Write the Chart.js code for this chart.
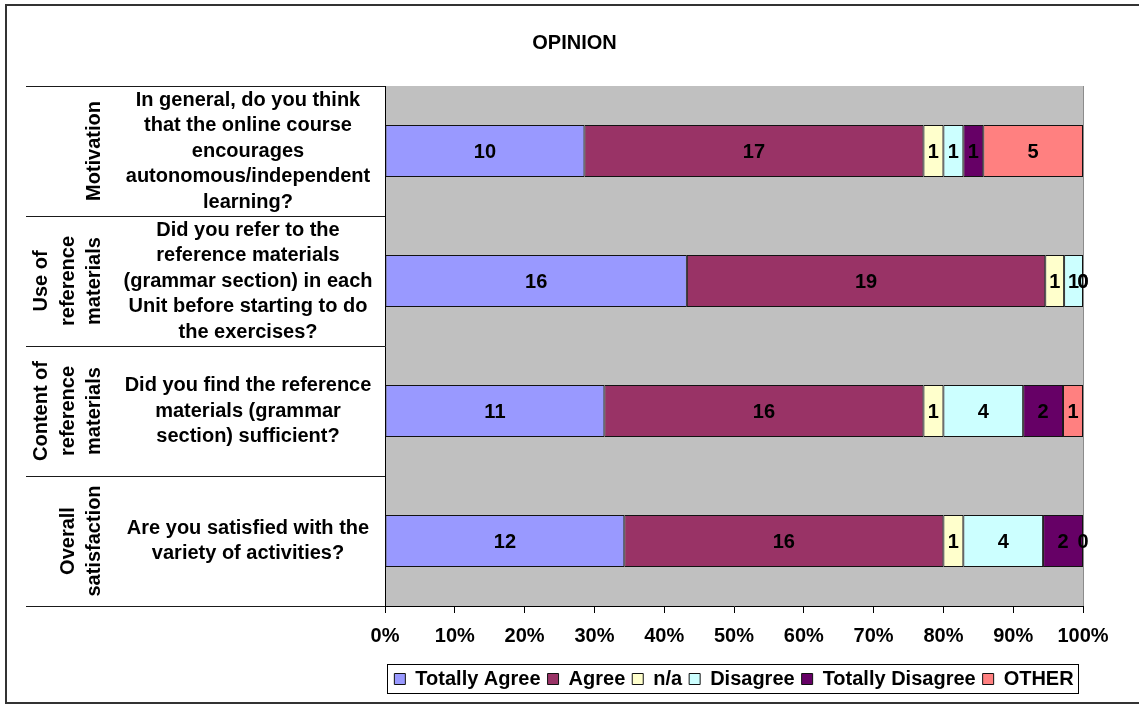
<!DOCTYPE html>
<html>
<head>
<meta charset="utf-8">
<title>OPINION</title>
<script src="https://cdn.jsdelivr.net/npm/chart.js@4/dist/chart.umd.min.js"></script>
<style>
  html, body { margin: 0; padding: 0; background: #fff; }
  #wrap { width: 1139px; height: 706px; position: relative; }
</style>
</head>
<body>
<div id="wrap"><canvas id="c" width="1139" height="706"></canvas></div>
<script>
// Survey topics (outer label level), written one line per entry
const groups = [
  ['Motivation'],
  ['Use of', 'reference', 'materials'],
  ['Content of', 'reference', 'materials'],
  ['Overall', 'satisfaction']
];

// Questions (inner label level)
const questions = [
  ['In general, do you think', 'that the online course', 'encourages', 'autonomous/independent', 'learning?'],
  ['Did you refer to the', 'reference materials', '(grammar section) in each', 'Unit before starting to do', 'the exercises?'],
  ['Did you find the reference', 'materials (grammar', 'section) sufficient?'],
  ['Are you satisfied with the', 'variety of activities?']
];

// Answer categories
const seriesNames = ['Totally Agree', 'Agree', 'n/a', 'Disagree', 'Totally Disagree', 'OTHER'];

// Number of answers per question
const totallyAgree    = [10, 16, 11, 12];
const agree           = [17, 19, 16, 16];
const notApplicable   = [1, 1, 1, 1];
const disagree        = [1, 1, 4, 4];
const totallyDisagree = [1, 0, 2, 2];
const other           = [5, 0, 1, 0];

// Percentage axis ticks
const xTicks = [0, 10, 20, 30, 40, 50, 60, 70, 80, 90, 100];

const seriesCounts = [totallyAgree, agree, notApplicable, disagree, totallyDisagree, other];
const seriesColors = ['#9999FF', '#993366', '#FFFFCC', '#CCFFFF', '#660066', '#FF8080'];

const totals = questions.map((_, i) => seriesCounts.reduce((s, arr) => s + arr[i], 0));

const FONT = 'Liberation Sans, Arial, Helvetica, sans-serif';
const FS = 20;
Chart.defaults.font.family = FONT;
Chart.defaults.font.weight = 'bold';
Chart.defaults.font.size = FS;
Chart.defaults.color = '#000';

// Grey plot background and its right edge
const plotBackground = {
  id: 'plotBackground',
  beforeDraw(chart) {
    const { ctx, chartArea: a } = chart;
    ctx.save();
    ctx.fillStyle = '#C0C0C0';
    ctx.fillRect(a.left, a.top, a.right - a.left, a.bottom - a.top);
    ctx.restore();
  },
  afterDatasetsDraw(chart) {
    const { ctx, chartArea: a } = chart;
    ctx.save();
    ctx.strokeStyle = '#8c8c8c';
    ctx.lineWidth = 1;
    ctx.beginPath();
    ctx.moveTo(Math.round(a.right) + 0.5, a.top);
    ctx.lineTo(Math.round(a.right) + 0.5, a.bottom);
    ctx.stroke();
    ctx.restore();
  }
};

// Count labels centred in every segment
const segmentLabels = {
  id: 'segmentLabels',
  afterDatasetsDraw(chart) {
    const { ctx } = chart;
    ctx.save();
    ctx.font = 'bold ' + FS + 'px ' + FONT;
    ctx.fillStyle = '#000';
    ctx.textAlign = 'center';
    ctx.textBaseline = 'middle';
    chart.data.datasets.forEach((ds, di) => {
      const meta = chart.getDatasetMeta(di);
      meta.data.forEach((el, i) => {
        const v = ds.counts[i];
        if (v === null || v === undefined) return;
        ctx.fillText(String(v), (el.x + el.base) / 2, el.y + 1);
      });
    });
    ctx.restore();
  }
};

// Two-level category labels with separating rules on the left
const categoryTable = {
  id: 'categoryTable',
  afterDraw(chart) {
    const { ctx, chartArea: a } = chart;
    const ys = chart.scales.y;
    const half = (ys.getPixelForValue(1) - ys.getPixelForValue(0)) / 2;
    ctx.save();
    ctx.strokeStyle = '#1a1a1a';
    ctx.lineWidth = 1;
    for (let i = 0; i <= questions.length; i++) {
      const y = Math.round(ys.getPixelForValue(0) - half + i * 2 * half) + 0.5;
      ctx.beginPath();
      ctx.moveTo(26, y);
      ctx.lineTo(a.left, y);
      ctx.stroke();
    }
    ctx.font = 'bold ' + FS + 'px ' + FONT;
    ctx.fillStyle = '#000';
    ctx.textAlign = 'center';
    ctx.textBaseline = 'middle';
    const qLine = 25.5;
    questions.forEach((lines, i) => {
      const cy = ys.getPixelForValue(i);
      const y0 = cy - (lines.length - 1) * qLine / 2;
      lines.forEach((t, k) => ctx.fillText(t, 248, y0 + k * qLine));
    });
    const gLine = 26.5;
    groups.forEach((lines, i) => {
      const cy = ys.getPixelForValue(i);
      ctx.save();
      ctx.translate(0, cy);
      ctx.rotate(-Math.PI / 2);
      const n = lines.length;
      lines.forEach((t, k) => {
        const x = 94.5 - (n - 1 - k) * gLine;
        // rotated frame: local y runs along canvas x
        ctx.fillText(t, 0, x);
      });
      ctx.restore();
    });
    ctx.restore();
  }
};

// Legend frame and outer chart frame
const frames = {
  id: 'frames',
  afterDraw(chart) {
    const { ctx } = chart;
    const boxes = chart.legend.legendHitBoxes;
    ctx.save();
    if (boxes && boxes.length) {
      const left = Math.min(...boxes.map(b => b.left)) - 7;
      const right = Math.max(...boxes.map(b => b.left + b.width)) + 5;
      const cy = boxes[0].top + boxes[0].height / 2;
      ctx.strokeStyle = '#000';
      ctx.lineWidth = 1;
      ctx.strokeRect(Math.round(left) + 0.5, Math.round(cy - 15) + 0.5, Math.round(right - left), 29);
    }
    ctx.strokeStyle = '#333';
    ctx.lineWidth = 2;
    ctx.strokeRect(6, 5, 1200, 698);
    ctx.restore();
  }
};

const datasets = seriesNames.map((name, s) => ({
  label: name,
  counts: seriesCounts[s],
  data: seriesCounts[s].map((v, i) => v * 100 / totals[i]),
  backgroundColor: seriesColors[s],
  borderColor: '#111',
  borderWidth: 1,
  borderSkipped: false,
  barPercentage: 0.4,
  categoryPercentage: 1
}));

new Chart(document.getElementById('c'), {
  type: 'bar',
  data: { labels: questions.map(q => q.join(' ')), datasets },
  options: {
    indexAxis: 'y',
    responsive: false,
    animation: false,
    layout: { padding: { left: 10, right: 0, top: 0, bottom: 7 } },
    scales: {
      x: {
        stacked: true,
        min: 0,
        max: 100,
        afterBuildTicks(scale) { scale.ticks = xTicks.map(v => ({ value: v })); },
        ticks: { callback: v => v + '%', padding: 11, font: { size: FS, weight: 'bold' }, color: '#000', maxRotation: 0 },
        grid: { drawOnChartArea: false, drawTicks: true, tickLength: 7, color: '#000' },
        border: { display: true, color: '#000', width: 1 },
        afterFit(scale) { scale.height = 56; }
      },
      y: {
        stacked: true,
        ticks: { display: false },
        grid: { display: false },
        border: { display: true, color: '#000', width: 1 },
        afterFit(scale) { scale.width = 375; }
      },
      yRight: {
        type: 'linear',
        position: 'right',
        display: true,
        ticks: { display: false },
        grid: { display: false },
        border: { display: false },
        afterFit(scale) { scale.width = 56; }
      }
    },
    plugins: {
      title: {
        display: true,
        text: 'OPINION',
        font: { size: FS, weight: 'bold' },
        color: '#000',
        padding: { top: 31, bottom: 31 }
      },
      legend: {
        position: 'bottom',
        fullSize: false,
        labels: {
          boxWidth: 11,
          boxHeight: 11,
          padding: 7,
          color: '#000',
          font: { size: FS, weight: 'bold' }
        }
      },
      tooltip: { enabled: false }
    }
  },
  plugins: [plotBackground, segmentLabels, categoryTable, frames]
});
</script>
</body>
</html>
